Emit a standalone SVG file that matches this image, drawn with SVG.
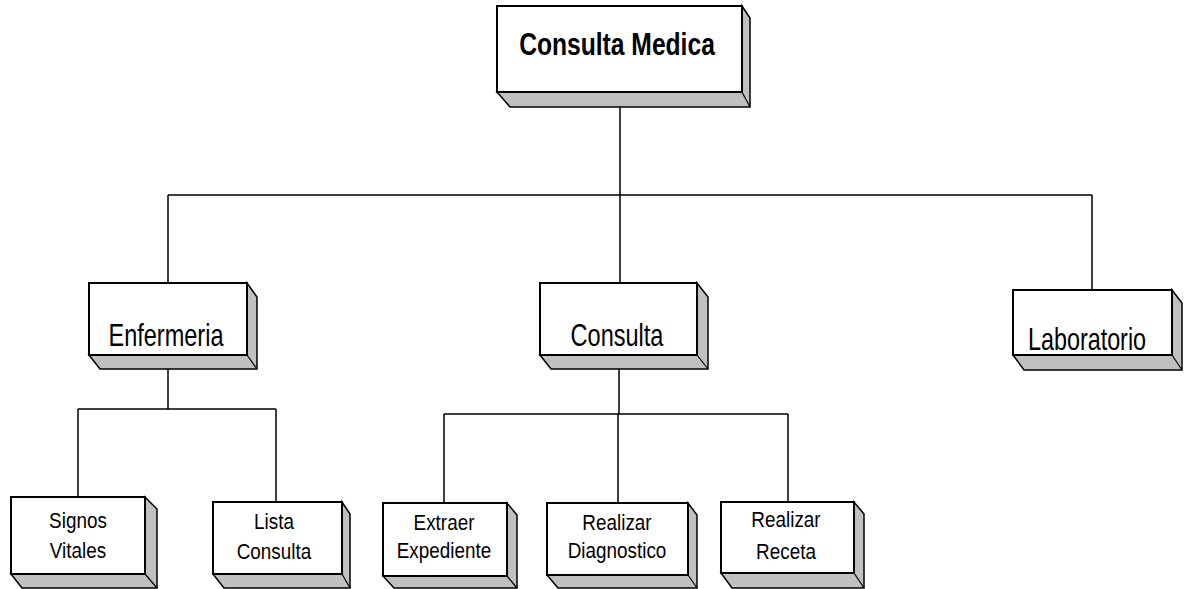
<svg xmlns="http://www.w3.org/2000/svg" width="1184" height="589" viewBox="0 0 1184 589">
  <style>
    .face { fill: #ffffff; stroke: #000000; stroke-width: 2; }
    .side { fill: #c0c0c0; stroke: #000000; stroke-width: 1.5; stroke-linejoin: miter; }
    .edge { fill: none; stroke: #000000; stroke-width: 1.2; }
    .wire { fill: none; stroke: #000000; stroke-width: 1.5; }
    text { font-family: "Liberation Sans", Arial, sans-serif; fill: #000000; text-anchor: middle; }
    .root { font-size: 32px; font-weight: bold; }
    .mid { font-size: 32px; }
    .leaf { font-size: 22.5px; }
  </style>
  <rect width="1184" height="589" fill="#ffffff"/>

  <!-- tree connectors -->
  <g id="connectors">
    <path class="wire" d="M620 92 V195 M168 195 H1092 M168 195 V283 M620 195 V283 M1092 195 V290"/>
    <path class="wire" d="M168 355 V409 M78 409 H276 M78 409 V497 M276 409 V502"/>
    <path class="wire" d="M619 355 V414 M444 414 H788 M444 414 V503 M618 414 V503 M788 414 V502"/>
  </g>

  <!-- root -->
  <g id="consulta-medica">
    <polygon class="side" points="497,92 510,107 750,107 750,18 742,6 742,92"/>
    <line class="edge" x1="742" y1="92" x2="750" y2="107"/>
    <rect class="face" x="497" y="6" width="245" height="86"/>
    <text class="root" transform="translate(617 55) scale(0.77 1)">Consulta Medica</text>
  </g>

  <!-- second level -->
  <g id="enfermeria">
    <polygon class="side" points="89,355 100,369 257,369 257,297 247,283 247,355"/>
    <line class="edge" x1="247" y1="355" x2="257" y2="369"/>
    <rect class="face" x="89" y="283" width="158" height="72"/>
    <text class="mid" transform="translate(166 346) scale(0.735 1)">Enfermeria</text>
  </g>

  <g id="consulta">
    <polygon class="side" points="540,355 551,369 708,369 708,297 697,283 697,355"/>
    <line class="edge" x1="697" y1="355" x2="708" y2="369"/>
    <rect class="face" x="540" y="283" width="157" height="72"/>
    <text class="mid" transform="translate(617 346) scale(0.735 1)">Consulta</text>
  </g>

  <g id="laboratorio">
    <polygon class="side" points="1013,355 1024,370 1182,370 1182,303 1172,290 1172,355"/>
    <line class="edge" x1="1172" y1="355" x2="1182" y2="370"/>
    <rect class="face" x="1013" y="290" width="159" height="65"/>
    <text class="mid" transform="translate(1087 350) scale(0.73 1)">Laboratorio</text>
  </g>

  <!-- leaves -->
  <g id="signos-vitales">
    <polygon class="side" points="11,574 22,588 157,588 157,509 145,497 145,574"/>
    <line class="edge" x1="145" y1="574" x2="157" y2="588"/>
    <rect class="face" x="11" y="497" width="134" height="77"/>
    <text class="leaf" transform="translate(78 528) scale(0.84 1)">Signos</text>
    <text class="leaf" transform="translate(78 558) scale(0.84 1)">Vitales</text>
  </g>

  <g id="lista-consulta">
    <polygon class="side" points="213,574 224,588 350,588 350,514 342,502 342,574"/>
    <line class="edge" x1="342" y1="574" x2="350" y2="588"/>
    <rect class="face" x="213" y="502" width="129" height="72"/>
    <text class="leaf" transform="translate(274 529) scale(0.84 1)">Lista</text>
    <text class="leaf" transform="translate(274 559) scale(0.84 1)">Consulta</text>
  </g>

  <g id="extraer-expediente">
    <polygon class="side" points="383,576 394,588 517,588 517,515 507,503 507,576"/>
    <line class="edge" x1="507" y1="576" x2="517" y2="588"/>
    <rect class="face" x="383" y="503" width="124" height="73"/>
    <text class="leaf" transform="translate(444 530) scale(0.84 1)">Extraer</text>
    <text class="leaf" transform="translate(444 558) scale(0.84 1)">Expediente</text>
  </g>

  <g id="realizar-diagnostico">
    <polygon class="side" points="547,575 558,588 697,588 697,515 688,503 688,575"/>
    <line class="edge" x1="688" y1="575" x2="697" y2="588"/>
    <rect class="face" x="547" y="503" width="141" height="72"/>
    <text class="leaf" transform="translate(617 530) scale(0.84 1)">Realizar</text>
    <text class="leaf" transform="translate(617 558) scale(0.84 1)">Diagnostico</text>
  </g>

  <g id="realizar-receta">
    <polygon class="side" points="721,573 732,588 864,588 864,514 854,502 854,573"/>
    <line class="edge" x1="854" y1="573" x2="864" y2="588"/>
    <rect class="face" x="721" y="502" width="133" height="71"/>
    <text class="leaf" transform="translate(786 527) scale(0.84 1)">Realizar</text>
    <text class="leaf" transform="translate(786 559) scale(0.84 1)">Receta</text>
  </g>
</svg>
